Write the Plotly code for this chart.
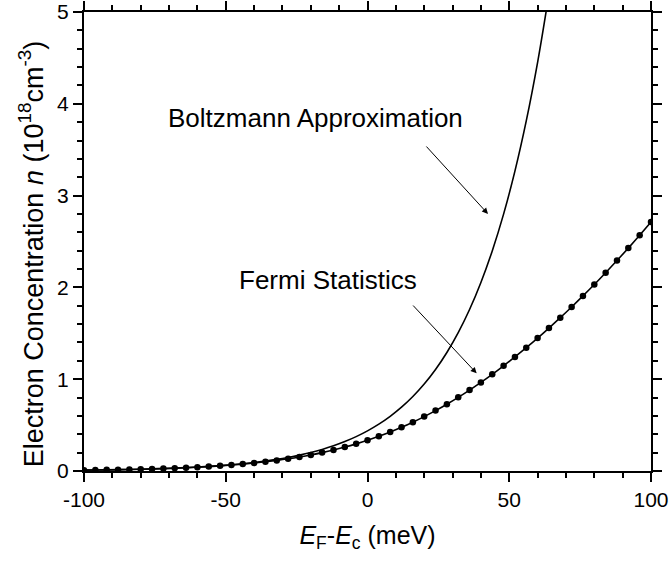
import plotly.graph_objects as go

# Fermi level position relative to the conduction band edge (meV)
energy_fermi = [-100, -96, -92, -88, -84, -80, -76, -72, -68, -64, -60, -56, -52,
                -48, -44, -40, -36, -32, -28, -24, -20, -16, -12, -8, -4, 0,
                4, 8, 12, 16, 20, 24, 28, 32, 36, 40, 44, 48, 52, 56, 60, 64,
                68, 72, 76, 80, 84, 88, 92, 96, 100]
# Electron concentration from Fermi-Dirac statistics (1e18 cm^-3)
n_fermi = [0.00906, 0.01057, 0.01232, 0.01435, 0.01672, 0.01948, 0.02268,
           0.02640, 0.03071, 0.03570, 0.04149, 0.04817, 0.05588, 0.06477,
           0.07499, 0.08672, 0.10014, 0.11547, 0.13291, 0.15271, 0.17513,
           0.20036, 0.22869, 0.26032, 0.29552, 0.33446, 0.37739, 0.42453,
           0.47599, 0.53196, 0.59250, 0.65769, 0.72759, 0.80213, 0.88128,
           0.96502, 1.05309, 1.14563, 1.24233, 1.34317, 1.44807, 1.55693,
           1.66979, 1.78652, 1.90713, 2.03133, 2.15994, 2.29216, 2.42818,
           2.56787, 2.71159]

# Boltzmann approximation (1e18 cm^-3)
energy_boltz = [-100, -96, -92, -88, -84, -80, -76, -72, -68, -64, -60, -56, -52,
                -48, -44, -40, -36, -32, -28, -24, -20, -16, -12, -8, -4, 0,
                4, 8, 12, 16, 20, 24, 28, 32, 36, 40, 44, 48, 52, 56, 60, 64]
n_boltz = [0.00913, 0.01066, 0.01244, 0.01452, 0.01695, 0.01979, 0.02310,
           0.02697, 0.03148, 0.03675, 0.04290, 0.05008, 0.05846, 0.06825,
           0.07967, 0.09300, 0.10856, 0.12673, 0.14793, 0.17269, 0.20159,
           0.23533, 0.27471, 0.32068, 0.37435, 0.43700, 0.51013, 0.59550,
           0.69516, 0.81150, 0.94731, 1.10584, 1.29090, 1.50693, 1.75912,
           2.05351, 2.39717, 2.79834, 3.26665, 3.81333, 4.45150, 5.19647]

x_ticks = [-100, -50, 0, 50, 100]
x_ticklabels = ["-100", "-50", "0", "50", "100"]
y_ticks = [0, 1, 2, 3, 4, 5]
y_ticklabels = ["0", "1", "2", "3", "4", "5"]
x_range = [-100, 100]
y_range = [0, 5]

FONT = "Liberation Sans, Arial, sans-serif"

fig = go.Figure()
fig.add_trace(go.Scatter(
    x=energy_boltz, y=n_boltz, mode="lines",
    line=dict(color="black", width=1.6, shape="spline"),
    showlegend=False, hoverinfo="skip"))
fig.add_trace(go.Scatter(
    x=energy_fermi, y=n_fermi, mode="lines+markers",
    line=dict(color="black", width=1.6, shape="spline"),
    marker=dict(color="black", size=6.5),
    showlegend=False, hoverinfo="skip"))
# empty trace that keeps the top/right frame axes alive
fig.add_trace(go.Scatter(x=[], y=[], xaxis="x2", yaxis="y2",
                         showlegend=False, hoverinfo="skip"))

# Curve labels
fig.add_annotation(x=-18.5, y=3.845, xref="x", yref="y", text="Boltzmann Approximation",
                   showarrow=False, font=dict(family=FONT, size=26, color="black"))
fig.add_annotation(x=-14.1, y=2.08, xref="x", yref="y", text="Fermi Statistics",
                   showarrow=False, font=dict(family=FONT, size=26, color="black"))

# Pointer arrows
fig.add_annotation(x=42.5, y=2.80, ax=20.3, ay=3.551, xref="x", yref="y",
                   axref="x", ayref="y", text="", showarrow=True,
                   arrowhead=2, arrowsize=1.2, arrowwidth=1, arrowcolor="black")
fig.add_annotation(x=38.5, y=1.064, ax=15.6, ay=1.819, xref="x", yref="y",
                   axref="x", ayref="y", text="", showarrow=True,
                   arrowhead=2, arrowsize=1.2, arrowwidth=1, arrowcolor="black")

# Y-axis title
fig.add_annotation(x=-0.092, y=0.474, xref="paper", yref="paper",
                   text="Electron Concentration <i>n</i> (10<sup>18</sup>cm<sup>-3</sup>)",
                   textangle=-90, showarrow=False, xanchor="center", yanchor="middle",
                   font=dict(family=FONT, size=27, color="black"))

tick_style = dict(
    showline=True, linecolor="black", linewidth=2, automargin=False,
    ticks="outside", ticklen=9, tickwidth=1.6, tickcolor="black",
    showgrid=False, zeroline=False,
    tickfont=dict(family=FONT, size=21, color="black"),
)
x_minor = dict(dtick=10, ticks="outside", ticklen=5, tickwidth=1.6, tickcolor="black")
y_minor = dict(dtick=0.2, ticks="outside", ticklen=5, tickwidth=1.6, tickcolor="black")

fig.update_layout(
    width=669, height=562,
    margin=dict(l=84, r=18, t=12, b=91),
    plot_bgcolor="white", paper_bgcolor="white",
    font=dict(family=FONT, color="black"),
    xaxis=dict(range=x_range, tickvals=x_ticks, ticktext=x_ticklabels, minor=x_minor,
               title=dict(text="<i>E</i><sub>F</sub>-<i>E</i><sub>c</sub> (meV)",
                          font=dict(family=FONT, size=25, color="black"), standoff=16),
               **tick_style),
    yaxis=dict(range=y_range, tickvals=y_ticks, ticktext=y_ticklabels, minor=y_minor,
               **tick_style),
    xaxis2=dict(range=x_range, tickvals=x_ticks, minor=x_minor, overlaying="x",
                side="top", anchor="y", showticklabels=False, **tick_style),
    yaxis2=dict(range=y_range, tickvals=y_ticks, minor=y_minor, overlaying="y",
                side="right", anchor="x", showticklabels=False, **tick_style),
)

fig.write_html("out.html")
